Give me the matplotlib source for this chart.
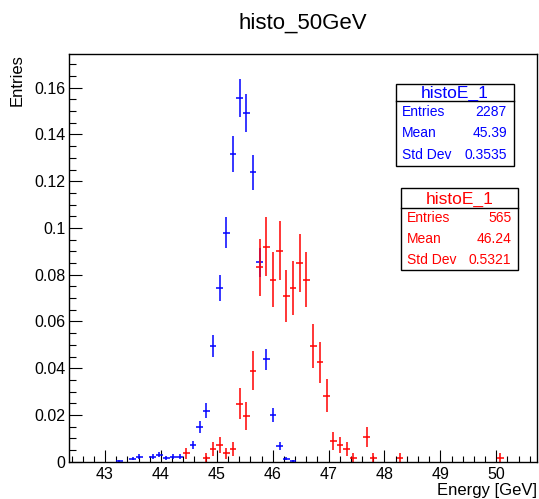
import numpy as np
import matplotlib
matplotlib.use('Agg')
import matplotlib.pyplot as plt
from matplotlib.patches import Rectangle
from matplotlib.ticker import MultipleLocator, FuncFormatter

plt.rcParams['font.family'] = ['Liberation Sans', 'DejaVu Sans']

W, H = 539, 499

# histogram binning
x_low, x_high, n_bins = 42.36, 50.73, 70

# blue histogram: non-empty bin numbers and counts
blue_bins = [7, 9, 10, 12, 13, 14, 15, 16, 18, 19, 20, 21, 22, 23, 24, 25,
             26, 27, 28, 29, 30, 31, 32, 33]
blue_counts = [1, 3, 5, 5, 7, 4, 5, 5, 16, 34, 50, 113, 170, 224, 301, 356,
               341, 283, 195, 100, 46, 15, 3, 1]
blue_stats = ['2287', '45.39', '0.3535']

# red histogram
red_bins = [17, 20, 21, 22, 23, 24, 25, 26, 27, 28, 29, 30, 31, 32, 33, 34,
            35, 36, 37, 38, 39, 40, 41, 42, 44, 45, 49, 64]
red_counts = [2, 1, 3, 4, 2, 3, 14, 11, 22, 47, 52, 44, 51, 40, 42, 48,
              44, 28, 24, 16, 5, 4, 3, 1, 6, 1, 1, 1]
red_stats = ['565', '46.24', '0.5321']

stat_names = ['Entries', 'Mean', 'Std Dev']


def px(x, y):
    # pixel position -> figure fraction
    return x / W, 1 - y / H


fig = plt.figure(figsize=(W / 100, H / 100), dpi=100)
ax = fig.add_axes([69.3 / W, 1 - 461.7 / H, (537 - 69.3) / W, (461.7 - 54.3) / H])

width = (x_high - x_low) / n_bins
for bins, counts, entries, col in [(blue_bins, blue_counts, int(blue_stats[0]), 'blue'),
                                   (red_bins, red_counts, int(red_stats[0]), 'red')]:
    bins = np.array(bins)
    counts = np.array(counts, dtype=float)
    centers = x_low + (bins + 0.5) * width
    ax.errorbar(centers, counts / entries, xerr=width / 2, yerr=np.sqrt(counts) / entries,
                fmt='none', ecolor=col, elinewidth=1.1, capsize=0)

ax.set_xlim(x_low, x_high)
ax.set_ylim(0, 0.1743)
ax.xaxis.set_major_locator(MultipleLocator(1))
ax.xaxis.set_minor_locator(MultipleLocator(0.2))
ax.yaxis.set_major_locator(MultipleLocator(0.02))
ax.yaxis.set_minor_locator(MultipleLocator(0.005))
ax.yaxis.set_major_formatter(FuncFormatter(lambda v, p: '%g' % round(v, 3)))
ax.tick_params(which='both', direction='in', top=False, right=False, labelsize=11.5, width=0.8)
ax.tick_params(axis='y', which='major', length=9.4, pad=3)
ax.tick_params(axis='y', which='minor', length=5)
ax.tick_params(axis='x', which='major', length=8.6, pad=4)
ax.tick_params(axis='x', which='minor', length=4)
for s in ax.spines.values():
    s.set_linewidth(1)

fig.text(*px(303, 28.3), 'histo_50GeV', ha='center', va='baseline', fontsize=16)
fig.text(*px(17, 54), 'Entries', rotation=90, ha='center', va='top', fontsize=12)
fig.text(*px(537, 495), 'Energy [GeV]', ha='right', va='baseline', fontsize=12)


def stat_box(x0, x1, y0, ysep, y1, col, values):
    fig.patches.append(Rectangle(px(x0, y1), (x1 - x0) / W, (y1 - y0) / H,
                                 transform=fig.transFigure, facecolor='white',
                                 edgecolor='black', linewidth=1, zorder=5))
    fig.lines.append(plt.Line2D([x0 / W, x1 / W], [1 - ysep / H] * 2,
                                transform=fig.transFigure, color='black', lw=1, zorder=6))
    fig.text(*px((x0 + x1) / 2, (y0 + ysep) / 2 + 1), 'histoE_1', color=col,
             ha='center', va='center', fontsize=12.5, zorder=7)
    step = (y1 - ysep) / 3
    for i, (name, val) in enumerate(zip(stat_names, values)):
        yc = ysep + step * (i + 0.5)
        fig.text(*px(x0 + 6, yc), name, color=col, ha='left', va='center', fontsize=10, zorder=7)
        fig.text(*px(x1 - 7, yc), val, color=col, ha='right', va='center', fontsize=10, zorder=7)


stat_box(396, 514, 84.3, 101, 165.7, 'blue', blue_stats)
stat_box(400.7, 518.3, 188.3, 207.7, 270, 'red', red_stats)

fig.savefig('out.png', dpi=100)
